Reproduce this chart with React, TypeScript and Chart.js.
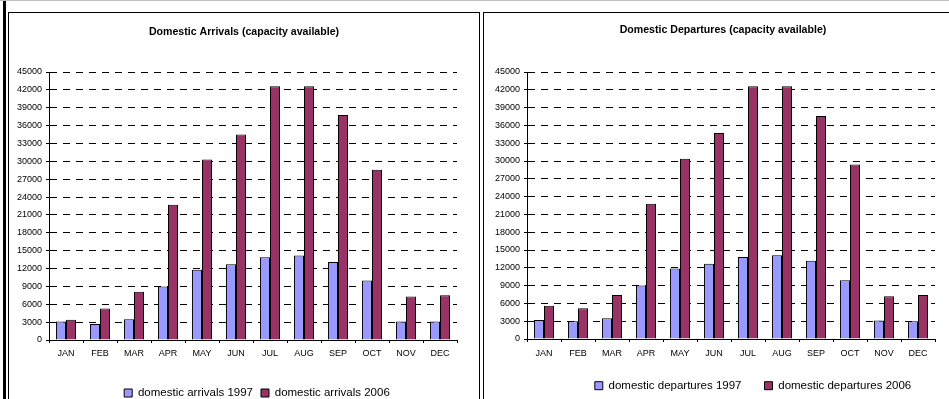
import { useEffect, useRef } from 'react';
import { Chart, registerables } from 'chart.js';

Chart.register(...registerables);

// ---- data -------------------------------------------------------------
const MONTHS = ['JAN', 'FEB', 'MAR', 'APR', 'MAY', 'JUN', 'JUL', 'AUG', 'SEP', 'OCT', 'NOV', 'DEC'];

const Y_MAX = 45000;
const Y_STEP = 3000;

const ARRIVALS_1997 = [3100, 2700, 3500, 9000, 11800, 12700, 13900, 14200, 13100, 10000, 3100, 3100];
const ARRIVALS_2006 = [3400, 5300, 8100, 22700, 30300, 34500, 42600, 42600, 37800, 28600, 7300, 7500];

const DEPARTURES_1997 = [3200, 3000, 3500, 9000, 11900, 12700, 13800, 14100, 13200, 9900, 3100, 3000];
const DEPARTURES_2006 = [5600, 5200, 7400, 22800, 30400, 34700, 42600, 42600, 37600, 29400, 7200, 7400];

const COLOR_1997 = '#9999FF';
const COLOR_2006 = '#993366';

const FONT = "'Liberation Sans', Arial, Helvetica, sans-serif";

// Moves the title and legend sideways after layout (Chart.js only centres them).
const boxShift = {
  id: 'boxShift',
  afterLayout(chart: any, _args: any, opts: any) {
    const tdx = (opts && opts.titleDx) || 0;
    const ldx = (opts && opts.legendDx) || 0;
    if (chart.titleBlock && tdx) {
      chart.titleBlock.left += tdx;
      chart.titleBlock.right += tdx;
    }
    if (chart.legend && ldx) {
      chart.legend.left += ldx;
      chart.legend.right += ldx;
    }
  },
};

type Geometry = {
  width: number;
  height: number;
  padRight: number;
  padBottom: number;
  yAxisWidth: number;
  titlePadTop: number;
  titlePadBottom: number;
  titleDx: number;
  xAxisHeight: number;
  xTickPadding: number;
  legendPadding: number;
  legendDx: number;
};

type PanelProps = {
  title: string;
  names: [string, string];
  first: number[];
  second: number[];
  geo: Geometry;
};

function Panel({ title, names, first, second, geo }: PanelProps) {
  const ref = useRef<HTMLCanvasElement | null>(null);

  useEffect(() => {
    if (!ref.current) return;
    const chart = new Chart(ref.current, {
      type: 'bar',
      data: {
        labels: MONTHS,
        datasets: [
          {
            label: names[0],
            data: first,
            backgroundColor: COLOR_1997,
            borderColor: '#000',
            borderWidth: 1,
            categoryPercentage: 0.59,
            barPercentage: 1,
          },
          {
            label: names[1],
            data: second,
            backgroundColor: COLOR_2006,
            borderColor: '#000',
            borderWidth: 1,
            categoryPercentage: 0.59,
            barPercentage: 1,
          },
        ],
      },
      options: {
        responsive: false,
        maintainAspectRatio: false,
        animation: false,
        events: [],
        layout: {
          padding: { left: 0, right: geo.padRight, top: 0, bottom: geo.padBottom },
        },
        scales: {
          x: {
            offset: true,
            grid: {
              display: true,
              offset: true,
              drawOnChartArea: false,
              drawTicks: true,
              tickLength: 3,
              color: '#000',
              tickColor: '#000',
            },
            border: { display: true, color: '#000', width: 1 },
            ticks: {
              color: '#000',
              font: { family: FONT, size: 9 },
              padding: geo.xTickPadding,
              maxRotation: 0,
              autoSkip: false,
            },
            afterFit: (scale: any) => {
              scale.height = geo.xAxisHeight;
            },
          },
          y: {
            min: 0,
            max: Y_MAX,
            grid: {
              color: '#000',
              lineWidth: 1,
              drawTicks: true,
              tickLength: 3,
              tickColor: '#000',
            },
            border: { display: true, color: '#000', width: 1, dash: [7, 6] },
            ticks: {
              stepSize: Y_STEP,
              autoSkip: false,
              color: '#000',
              font: { family: FONT, size: 9 },
              padding: 4,
              callback: (v: any) => String(v),
            },
            afterFit: (scale: any) => {
              scale.width = geo.yAxisWidth;
            },
          },
        },
        plugins: {
          tooltip: { enabled: false },
          title: {
            display: true,
            text: title,
            color: '#000',
            font: { family: FONT, size: 10.6, weight: 'bold' },
            padding: { top: geo.titlePadTop, bottom: geo.titlePadBottom },
          },
          legend: {
            display: true,
            position: 'bottom',
            fullSize: false,
            labels: {
              color: '#000',
              font: { family: FONT, size: 11.5 },
              boxWidth: 8,
              boxHeight: 8,
              padding: geo.legendPadding,
            },
          },
          boxShift: { titleDx: geo.titleDx, legendDx: geo.legendDx },
        } as any,
      },
      plugins: [boxShift],
    });
    return () => chart.destroy();
  }, [title, names, first, second, geo]);

  return (
    <canvas
      ref={ref}
      width={geo.width}
      height={geo.height}
      style={{ display: 'block', width: geo.width, height: geo.height }}
    />
  );
}

const LEFT_GEO: Geometry = {
  width: 470,
  height: 400,
  padRight: 22,
  padBottom: 4.25,
  yAxisWidth: 40,
  titlePadTop: 12.64,
  titlePadBottom: 33.64,
  titleDx: 11,
  xAxisHeight: 39.25,
  xTickPadding: 5.6,
  legendPadding: 8,
  legendDx: 4,
};

const RIGHT_GEO: Geometry = {
  width: 478,
  height: 400,
  padRight: 27,
  padBottom: 11.55,
  yAxisWidth: 43,
  titlePadTop: 10.64,
  titlePadBottom: 35.64,
  titleDx: 13.5,
  xAxisHeight: 17.95,
  xTickPadding: 5.9,
  legendPadding: 23,
  legendDx: 22,
};

const ARRIVAL_NAMES: [string, string] = ['domestic arrivals 1997', 'domestic arrivals 2006'];
const DEPARTURE_NAMES: [string, string] = ['domestic departures 1997', 'domestic departures 2006'];

export default function App() {
  return (
    <div
      style={{
        position: 'absolute',
        left: 0,
        top: 0,
        width: 949,
        height: 399,
        overflow: 'hidden',
        background: '#fff',
      }}
    >
      <div style={{ position: 'absolute', left: 0, top: 0, width: 949, height: 1, background: '#c0c0c0' }} />
      <div style={{ position: 'absolute', left: 3, top: 1, width: 3, height: 398, background: '#000' }} />
      <div
        style={{
          position: 'absolute',
          left: 8,
          top: 12,
          width: 472,
          height: 420,
          border: '1px solid #000',
          boxSizing: 'border-box',
        }}
      >
        <Panel
          title="Domestic Arrivals (capacity available)"
          names={ARRIVAL_NAMES}
          first={ARRIVALS_1997}
          second={ARRIVALS_2006}
          geo={LEFT_GEO}
        />
      </div>
      <div
        style={{
          position: 'absolute',
          left: 483,
          top: 12,
          width: 480,
          height: 420,
          border: '1px solid #000',
          boxSizing: 'border-box',
        }}
      >
        <Panel
          title="Domestic Departures (capacity available)"
          names={DEPARTURE_NAMES}
          first={DEPARTURES_1997}
          second={DEPARTURES_2006}
          geo={RIGHT_GEO}
        />
      </div>
    </div>
  );
}
